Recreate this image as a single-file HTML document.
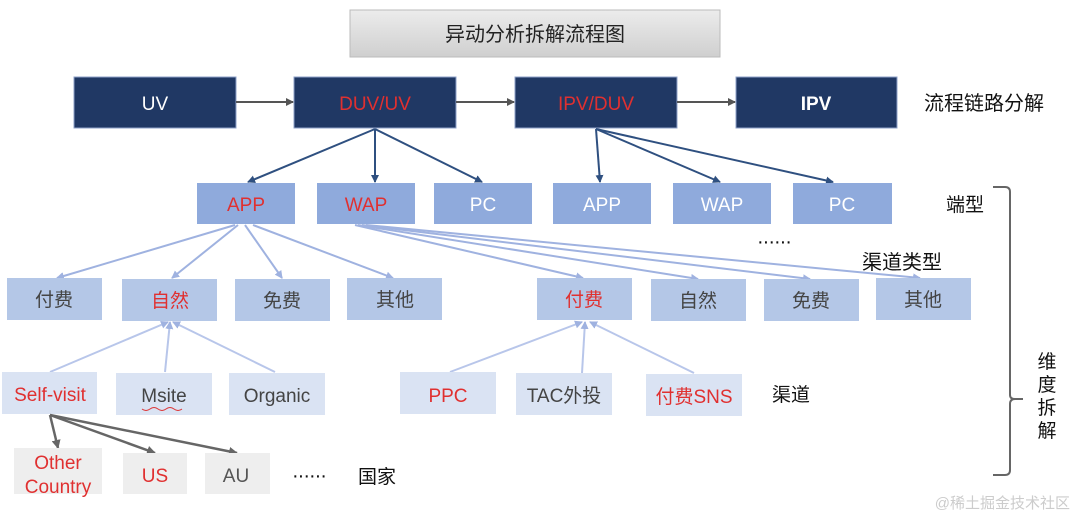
<!DOCTYPE html>
<html><head><meta charset="utf-8"><style>
html,body{margin:0;padding:0;background:#fff;width:1080px;height:530px;overflow:hidden}
svg text{font-family:"Liberation Sans","Noto Sans CJK SC",sans-serif}
</style></head><body>
<svg width="1080" height="530" viewBox="0 0 1080 530" xmlns="http://www.w3.org/2000/svg">
<defs>
<linearGradient id="g" x1="0" y1="0" x2="0" y2="1"><stop offset="0" stop-color="#ececec"/><stop offset="1" stop-color="#cfcfcf"/></linearGradient>
<marker id="ad" markerWidth="8" markerHeight="8" refX="7" refY="4" orient="auto" markerUnits="userSpaceOnUse"><path d="M0,0 L8,4 L0,8z" fill="#2f5080"/></marker>
<marker id="ag" markerWidth="8" markerHeight="8" refX="7" refY="4" orient="auto" markerUnits="userSpaceOnUse"><path d="M0,0 L8,4 L0,8z" fill="#555"/></marker>
<marker id="al" markerWidth="8" markerHeight="8" refX="7" refY="4" orient="auto" markerUnits="userSpaceOnUse"><path d="M0,0 L8,4 L0,8z" fill="#9fb2e0"/></marker>
<marker id="ag2" markerWidth="9" markerHeight="9" refX="8" refY="4.5" orient="auto" markerUnits="userSpaceOnUse"><path d="M0,0 L9,4.5 L0,9z" fill="#666"/></marker>
</defs>
<rect x="350" y="10" width="370" height="47" fill="url(#g)" stroke="#bbb"/>
<text x="535" y="41" font-size="20" text-anchor="middle" fill="#222">异动分析拆解流程图</text>

<g fill="#203864" stroke="#8ea0c8" stroke-width="1">
<rect x="74" y="77" width="162" height="51"/><rect x="294" y="77" width="162" height="51"/>
<rect x="515" y="77" width="162" height="51"/><rect x="736" y="77" width="161" height="51"/>
</g>
<g font-size="19" text-anchor="middle">
<text x="155" y="110" fill="#fff">UV</text><text x="375" y="110" fill="#e03030">DUV/UV</text>
<text x="596" y="110" fill="#e03030">IPV/DUV</text><text x="816" y="110" fill="#fff" font-weight="bold">IPV</text>
</g>
<g stroke="#555" stroke-width="2" marker-end="url(#ag)">
<line x1="236" y1="102" x2="293" y2="102"/><line x1="456" y1="102" x2="514" y2="102"/><line x1="677" y1="102" x2="735" y2="102"/>
</g>
<text x="924" y="110" font-size="20" fill="#111">流程链路分解</text>

<g stroke="#2f5080" stroke-width="2" marker-end="url(#ad)" fill="none">
<line x1="375" y1="129" x2="248" y2="182"/><line x1="375" y1="129" x2="375" y2="182"/><line x1="375" y1="129" x2="482" y2="182"/>
<line x1="596" y1="129" x2="600" y2="182"/><line x1="596" y1="129" x2="720" y2="182"/><line x1="596" y1="129" x2="833" y2="182"/>
</g>

<g fill="#8faadc">
<rect x="197" y="183" width="98" height="41"/><rect x="317" y="183" width="98" height="41"/><rect x="434" y="183" width="98" height="41"/>
<rect x="553" y="183" width="98" height="41"/><rect x="673" y="183" width="98" height="41"/><rect x="793" y="183" width="99" height="41"/>
</g>
<g font-size="19" text-anchor="middle" fill="#fff">
<text x="246" y="211" fill="#e03030">APP</text><text x="366" y="211" fill="#e03030">WAP</text><text x="483" y="211">PC</text>
<text x="602" y="211">APP</text><text x="722" y="211">WAP</text><text x="842" y="211">PC</text>
</g>
<text x="946" y="211" font-size="19" fill="#111">端型</text>
<text x="757" y="248" font-size="20" fill="#111" letter-spacing="-1">······</text>
<text x="862" y="269" font-size="20" fill="#111">渠道类型</text>

<g stroke="#9fb2e0" stroke-width="2" marker-end="url(#al)" fill="none">
<line x1="235" y1="225" x2="57" y2="278"/><line x1="238" y1="225" x2="172" y2="278"/><line x1="245" y1="225" x2="282" y2="278"/><line x1="253" y1="225" x2="393" y2="278"/>
<line x1="355" y1="225" x2="583" y2="278"/><line x1="358" y1="225" x2="698" y2="279"/><line x1="362" y1="225" x2="810" y2="279"/><line x1="366" y1="225" x2="920" y2="278"/>
</g>

<g fill="#b4c7e7">
<rect x="7" y="278" width="95" height="42"/><rect x="122" y="279" width="95" height="42"/><rect x="235" y="279" width="95" height="42"/><rect x="347" y="278" width="95" height="42"/>
<rect x="537" y="278" width="95" height="42"/><rect x="651" y="279" width="95" height="42"/><rect x="764" y="279" width="95" height="42"/><rect x="876" y="278" width="95" height="42"/>
</g>
<g font-size="19" text-anchor="middle" fill="#444">
<text x="54" y="306">付费</text><text x="170" y="307" fill="#e03030">自然</text><text x="282" y="307">免费</text><text x="395" y="306">其他</text>
<text x="584" y="306" fill="#e03030">付费</text><text x="698" y="307">自然</text><text x="811" y="307">免费</text><text x="923" y="306">其他</text>
</g>

<g stroke="#b8c6ea" stroke-width="2" marker-end="url(#al)" fill="none">
<line x1="50" y1="372" x2="168" y2="322"/><line x1="165" y1="372" x2="170" y2="322"/><line x1="275" y1="372" x2="173" y2="322"/>
<line x1="450" y1="372" x2="582" y2="322"/><line x1="582" y1="373" x2="585" y2="322"/><line x1="694" y1="373" x2="590" y2="322"/>
</g>

<g fill="#dae3f3">
<rect x="2" y="372" width="95" height="42"/><rect x="116" y="373" width="96" height="42"/><rect x="229" y="373" width="96" height="42"/>
<rect x="400" y="372" width="96" height="42"/><rect x="516" y="373" width="96" height="42"/><rect x="646" y="374" width="96" height="42"/>
</g>
<g font-size="19" text-anchor="middle" fill="#444">
<text x="50" y="401" fill="#e03030">Self-visit</text><text x="164" y="402">Msite</text><text x="277" y="402">Organic</text>
<text x="448" y="402" fill="#e03030">PPC</text><text x="564" y="402">TAC外投</text><text x="694" y="403" fill="#e03030">付费SNS</text>
</g>
<path d="M142,409 q4,3 8,0 t8,0 t8,0 t8,0 t8,0" stroke="#d33" stroke-width="1" fill="none"/>
<text x="772" y="401" font-size="19" fill="#111">渠道</text>

<g stroke="#666" stroke-width="2.5" marker-end="url(#ag2)" fill="none">
<line x1="50" y1="415" x2="58" y2="448"/><line x1="50" y1="415" x2="155" y2="453"/><line x1="50" y1="415" x2="237" y2="453"/>
</g>
<g fill="#eeeeee">
<rect x="14" y="448" width="88" height="46"/><rect x="123" y="453" width="64" height="41"/><rect x="205" y="453" width="65" height="41"/>
</g>
<g font-size="19" text-anchor="middle">
<text x="58" y="469" fill="#e03030">Other</text><text x="58" y="493" fill="#e03030">Country</text>
<text x="155" y="482" fill="#e03030">US</text><text x="236" y="482" fill="#555">AU</text>
</g>
<text x="292" y="482" font-size="20" fill="#111" letter-spacing="-1">······</text>
<text x="358" y="483" font-size="19" fill="#111">国家</text>

<path d="M993,187 H1005 Q1010,187 1010,192 V395 Q1010,399 1015,399 H1023 M1015,399 Q1010,399 1010,404 V470 Q1010,475 1005,475 H993" stroke="#666" stroke-width="2" fill="none"/>
<g font-size="19" fill="#111" text-anchor="middle">
<text x="1047" y="368">维</text><text x="1047" y="391">度</text><text x="1047" y="414">拆</text><text x="1047" y="437">解</text>
</g>
<text x="1070" y="508" font-size="15" fill="#ccc" text-anchor="end">@稀土掘金技术社区</text>
</svg>
</body></html>
